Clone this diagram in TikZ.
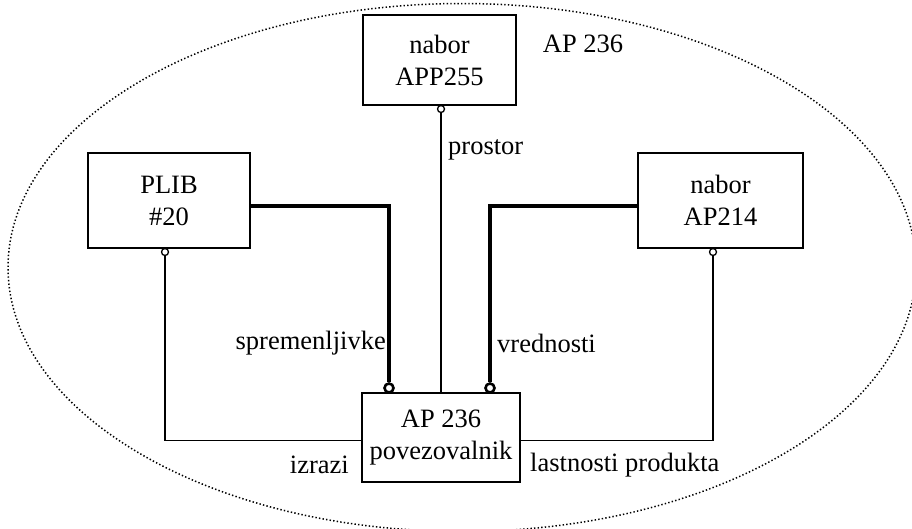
\documentclass[tikz,border=0pt]{standalone}
\usepackage{fontspec}
\setmainfont{Liberation Serif}
\usetikzlibrary{positioning}
\tikzset{
  box/.style={draw=black,line width=1.8pt,fill=white,align=center,font=\fontsize{26.5}{32}\selectfont,inner sep=2pt},
  wire/.style={draw=black,line width=1.3pt},
  bus/.style={draw=black,line width=3.2pt},
  port/.style={circle,draw=black,line width=1.3pt,fill=white,inner sep=0pt,minimum size=7pt},
  busport/.style={port,line width=2.6pt,minimum size=9pt},
  label/.style={font=\fontsize{26.5}{32}\selectfont,inner sep=0pt},
  border/.style={draw=black,line width=1.5pt,dash pattern=on 1.4pt off 2.2pt}
}
\begin{document}
\begin{tikzpicture}[x=1pt,y=-1pt]
  \useasboundingbox (0,0) rectangle (912,528);
  \clip (0,0) rectangle (912,528);
  \draw[border] (462,267.5) ellipse [x radius=454,y radius=264];
  \node[label] (title) at (583,44) {AP 236};
  % boxes
  \node[box,minimum width=153pt,minimum height=90pt] (app) at (439.5,60) {nabor\\APP255};
  \node[box,minimum width=162pt,minimum height=95pt] (plib) at (169,200.5) {PLIB\\\#20};
  \node[box,minimum width=165pt,minimum height=95pt] (ap) at (720.5,200.5) {nabor\\AP214};
  \node[box,minimum width=158pt,minimum height=89pt] (link) at (441,437.5) {AP 236\\povezovalnik};
  % ports
  \node[port] (pApp) at (441,109) {};
  \node[port] (pPlib) at (165,252) {};
  \node[port] (pAp) at (713,252) {};
  \node[busport] (pSpr) at (389,388) {};
  \node[busport] (pVre) at (490,388) {};
  % connectors
  \draw[wire] (pApp) -- (pApp |- link.north);
  \draw[bus] ([yshift=-5.5pt]plib.east) -| (pSpr);
  \draw[bus] ([yshift=-5.5pt]ap.west) -| (pVre);
  \draw[wire] (pPlib) |- ([yshift=-3pt]link.west);
  \draw[wire] (pAp) |- ([yshift=-3pt]link.east);
  % labels
  \node[label,anchor=west] (lProstor) at (448,150) {prostor};
  \node[label,anchor=east] (lSpr) at (386,343) {spremenljivke};
  \node[label,anchor=west] (lVre) at (497,343) {vrednosti};
  \node[label,anchor=east] (lIzr) at (349,465) {izrazi};
  \node[label,anchor=west] (lLast) at (530,465) {lastnosti produkta};
\end{tikzpicture}
\end{document}
